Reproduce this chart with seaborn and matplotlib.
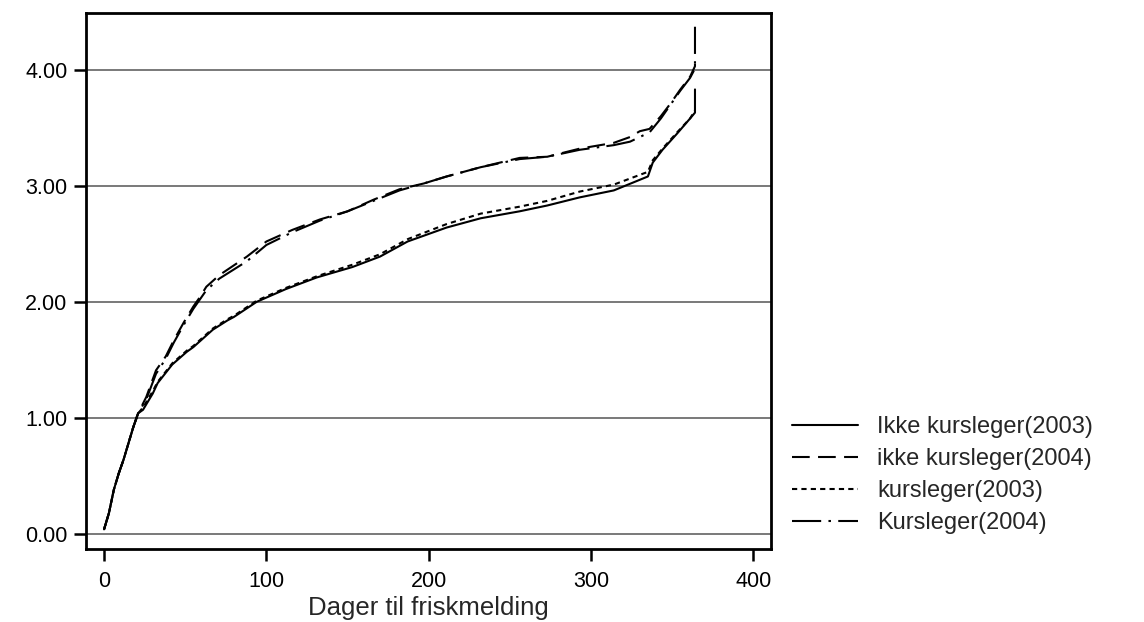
import numpy as np
import pandas as pd
import matplotlib
matplotlib.use("Agg")
import matplotlib.pyplot as plt
import seaborn as sns

# cumulative curves (days, value)
days_ikke_2003 = [0, 3, 6, 9, 12, 15, 18, 21, 24, 30, 33, 42, 51, 55, 67, 76, 80, 94, 112, 131,
                  153, 170, 187, 211, 232, 256, 273, 293, 314, 335, 338, 344, 353, 361, 364, 364]
vals_ikke_2003 = [0.04, 0.18, 0.38, 0.52, 0.64, 0.78, 0.92, 1.04, 1.07, 1.21, 1.30, 1.46, 1.57, 1.61,
                  1.76, 1.84, 1.87, 2.00, 2.11, 2.21, 2.30, 2.39, 2.52, 2.64, 2.72, 2.78, 2.83, 2.90,
                  2.96, 3.08, 3.20, 3.31, 3.45, 3.58, 3.63, 3.83]

days_kurs_2003 = [0, 3, 6, 9, 12, 15, 18, 21, 24, 30, 33, 42, 51, 55, 67, 76, 80, 94, 112, 131,
                  153, 170, 187, 211, 232, 256, 273, 293, 314, 335, 338, 344, 353, 361, 364, 364]
vals_kurs_2003 = [0.04, 0.18, 0.38, 0.52, 0.64, 0.78, 0.92, 1.04, 1.09, 1.23, 1.31, 1.47, 1.58, 1.62,
                  1.77, 1.85, 1.88, 2.01, 2.12, 2.22, 2.32, 2.41, 2.54, 2.67, 2.76, 2.82, 2.87, 2.95,
                  3.01, 3.12, 3.22, 3.32, 3.46, 3.58, 3.65, 3.65]

days_ikke_2004 = [0, 3, 6, 9, 12, 15, 18, 21, 26, 32, 38, 43, 49, 55, 59, 63, 71, 88, 100, 116,
                  133, 150, 166, 182, 197, 211, 232, 256, 273, 293, 314, 324, 330, 336, 343, 349,
                  355, 361, 364, 364]
vals_ikke_2004 = [0.04, 0.18, 0.38, 0.52, 0.64, 0.78, 0.92, 1.04, 1.18, 1.41, 1.53, 1.67, 1.82, 1.96,
                  2.04, 2.13, 2.23, 2.39, 2.52, 2.62, 2.71, 2.78, 2.88, 2.97, 3.02, 3.08, 3.16, 3.24,
                  3.25, 3.32, 3.37, 3.42, 3.47, 3.49, 3.60, 3.71, 3.83, 3.94, 4.03, 4.05]

days_kurs_2004 = [0, 3, 6, 9, 12, 15, 18, 21, 26, 32, 38, 43, 49, 55, 59, 63, 71, 88, 100, 116,
                  133, 150, 166, 182, 197, 211, 232, 256, 273, 293, 314, 324, 330, 336, 343, 349,
                  355, 361, 364, 364]
vals_kurs_2004 = [0.04, 0.18, 0.38, 0.52, 0.64, 0.78, 0.92, 1.04, 1.16, 1.38, 1.51, 1.65, 1.80, 1.94,
                  2.02, 2.10, 2.20, 2.35, 2.49, 2.60, 2.70, 2.78, 2.87, 2.96, 3.02, 3.08, 3.16, 3.23,
                  3.25, 3.31, 3.35, 3.38, 3.42, 3.46, 3.58, 3.70, 3.82, 3.93, 4.01, 4.37]

labels = ["Ikke kursleger(2003)", "ikke kursleger(2004)", "kursleger(2003)", "Kursleger(2004)"]
y_ticks = [0, 1, 2, 3, 4]
x_ticks = [0, 100, 200, 300, 400]

frames = []
for lab, d, v in zip(labels,
                     [days_ikke_2003, days_ikke_2004, days_kurs_2003, days_kurs_2004],
                     [vals_ikke_2003, vals_ikke_2004, vals_kurs_2003, vals_kurs_2004]):
    frames.append(pd.DataFrame({"dager": d, "verdi": v, "gruppe": lab}))
df = pd.concat(frames, ignore_index=True)

sns.set_style("white")
plt.rcParams["font.family"] = ["Liberation Sans", "DejaVu Sans"]

fig = plt.figure(figsize=(11.44, 6.22), dpi=100)
ax = fig.add_axes([0.0752, 0.1174, 0.599, 0.862])

for y in y_ticks:
    ax.axhline(y, color="#555555", lw=1.1, zorder=0)

dash_map = {labels[0]: "", labels[1]: (8.5, 4), labels[2]: (2.5, 2), labels[3]: (14, 3.5, 1.2, 3.5)}
sns.lineplot(data=df, x="dager", y="verdi", style="gruppe", dashes=dash_map,
             color="black", lw=1.5, estimator=None, sort=False, ax=ax)

ax.set_xlim(-11.1, 411)
ax.set_ylim(-0.129, 4.49)
ax.set_xticks(x_ticks)
ax.set_xticklabels([str(x) for x in x_ticks])
ax.set_yticks(y_ticks)
ax.set_yticklabels([f"{y:.2f}" for y in y_ticks])
ax.tick_params(axis="both", direction="out", length=8.5, width=1.8, labelsize=15.5,
               colors="black", pad=5, bottom=True, left=True)
ax.tick_params(axis="x", pad=7)
for s in ax.spines.values():
    s.set_linewidth(2.0)
    s.set_color("black")
ax.set_xlabel("Dager til friskmelding", fontsize=18.5, labelpad=3)
ax.set_ylabel("")

handles, labs = ax.get_legend_handles_labels()
ax.get_legend().remove()
fig.legend(handles, labs, loc="upper left", bbox_to_anchor=(0.6923, 0.3305),
           frameon=False, fontsize=17, handlelength=2.8, handletextpad=0.8,
           labelspacing=0.42, borderpad=0, borderaxespad=0)

fig.savefig("out.png", dpi=100)
